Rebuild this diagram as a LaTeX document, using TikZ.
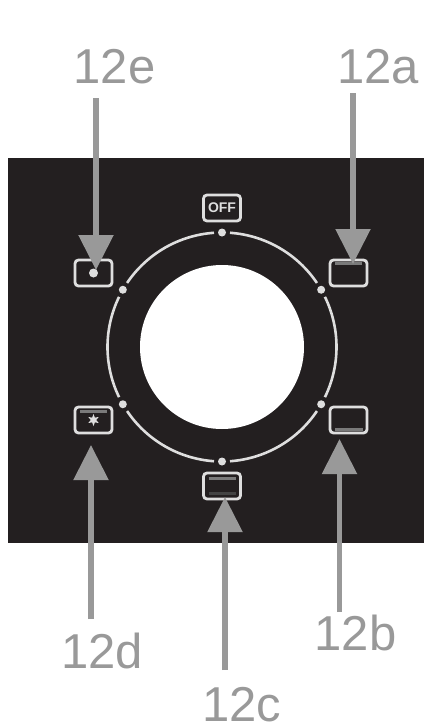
\documentclass[tikz,border=0pt]{standalone}
\usepackage{fontspec}
\setmainfont{Liberation Sans}
\usepackage{xcolor}
\usetikzlibrary{arrows.meta,positioning,shapes.geometric}
\definecolor{panel}{HTML}{231F20}
\definecolor{callout}{HTML}{999999}
\definecolor{ringline}{HTML}{DEDEDE}
\definecolor{softbar}{HTML}{7A7A7A}
\definecolor{dimbar}{HTML}{434343}

\begin{document}
\begin{tikzpicture}[
  x=1pt,y=-1pt,
  node distance=44pt,
  modebox/.style={draw=ringline,line width=2.8pt,rounded corners=3.5pt,minimum width=37pt,minimum height=26pt,inner sep=0pt,outer sep=0pt,text=ringline},
  ring/.style={draw=ringline,line width=2.6pt},
  bar/.style={draw=softbar,line width=3pt},
  pointer/.style={-{Triangle[length=35pt,width=34pt]},line width=5.4pt,draw=callout},
  tag/.style={text=callout,font=\fontsize{49}{49}\selectfont,anchor=base,inner sep=0pt}
]
\useasboundingbox (0,0) rectangle (424,728);
\fill[panel] (7.5,158) rectangle (424,543);
\node[circle,fill=white,minimum size=164pt,inner sep=0pt,outer sep=0pt] (dial) at (222,347) {};
% ring and its dots
\foreach \a/\b in {34/86,94/146,154/206,214/266,274/326,334/386}
  \draw[ring] ([shift={(\a:114.5pt)}]dial.center) arc[start angle=\a,end angle=\b,radius=114.5pt];
\foreach \a in {30,90,...,330}
  \fill[ringline] ([shift={(\a:114.5pt)}]dial.center) circle[radius=4pt];
% mode boxes
\node[modebox,above=44pt of dial,font=\bfseries\fontsize{14}{14}\selectfont] (off) {OFF};
\node[modebox,below=44pt of dial] (box12c) {};
\node[modebox] (box12e) at (93.5,273) {};
\node[modebox,below=121pt of box12e] (box12d) {};
\node[modebox,right=218pt of box12e] (box12a) {};
\node[modebox,below=121pt of box12a] (box12b) {};
\fill[ringline] (box12e.center) circle[radius=4.5pt];
\node[star,star points=6,star point ratio=2.2,fill=ringline,minimum size=12pt,inner sep=0pt] (mark12d) at (box12d.center) {};
\draw[bar] ([xshift=5pt,yshift=-3.5pt]box12a.north west) -- ([xshift=-5pt,yshift=-3.5pt]box12a.north east);
\draw[bar] ([xshift=5pt,yshift=4pt]box12b.south west) -- ([xshift=-4pt,yshift=4pt]box12b.south east);
\draw[bar] ([xshift=5pt,yshift=-5pt]box12c.north west) -- ([xshift=-5pt,yshift=-5pt]box12c.north east);
\draw[bar,dimbar] ([xshift=5pt,yshift=6pt]box12c.south west) -- ([xshift=-5pt,yshift=6pt]box12c.south east);
\draw[bar] ([xshift=5pt,yshift=-4pt]box12d.north west) -- ([xshift=-5pt,yshift=-4pt]box12d.north east);
% callouts
\node[tag] (tag12e) at (114.5,83) {12e};
\node[tag] (tag12a) at (378,83) {12a};
\node[tag] (tag12d) at (102,668) {12d};
\node[tag] (tag12c) at (242,721) {12c};
\node[tag] (tag12b) at (355.5,650) {12b};
\coordinate (start12e) at (96,98);
\coordinate (start12a) at (353,93);
\coordinate (start12d) at (91,619);
\coordinate (start12c) at (225,670);
\coordinate (start12b) at (339.5,612);
\draw[pointer,shorten >=3pt] (start12e) -- (start12e |- box12e.center);
\draw[pointer,shorten >=-4pt] (start12a) -- (start12a |- box12a.north);
\draw[pointer,shorten >=12pt] (start12d) -- (start12d |- box12d.south);
\draw[pointer,shorten >=-2pt] (start12c) -- (start12c |- box12c.south);
\draw[pointer,shorten >=6pt] (start12b) -- (start12b |- box12b.south);
\end{tikzpicture}
\end{document}
